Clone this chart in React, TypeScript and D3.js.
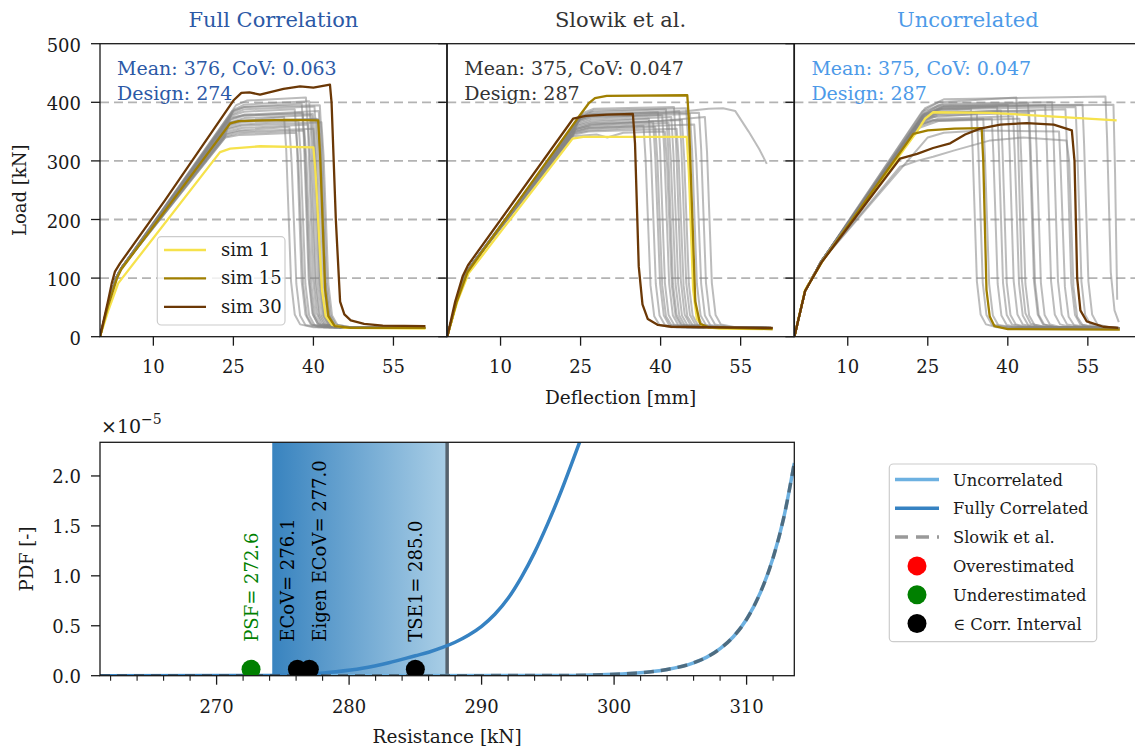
import React from "react";
import * as d3 from "d3";

type Pt = [number, number];

// ---------- Load–deflection panels ----------
const PANEL_TITLES = ["Full Correlation", "Slowik et al.", "Uncorrelated"];
const PANEL_MEANS = [376, 375, 375];
const PANEL_COVS = ["0.063", "0.047", "0.047"];
const PANEL_DESIGNS = [274, 287, 287];
const DEFLECTION_TICKS = [10, 25, 40, 55];
const LOAD_TICKS = [0, 100, 200, 300, 400, 500];
const LOAD_GRID = [100, 200, 300, 400];
const SIM_LABELS = ["sim 1", "sim 15", "sim 30"];

// shared elastic branch of each panel's sample curves
const FULL_START: Pt[] = [[0, 0], [1.5, 55], [3, 100], [4, 117]];
const SLOWIK_START: Pt[] = [[0, 0], [1.7, 58], [3.4, 105], [4.2, 118]];
const UNCORR_START: Pt[] = [[0, 0], [2, 78], [5, 128]];

const FULL_GRAY: Pt[][] = [
  [[25.5, 395], [27.5, 403], [38.6, 408], [39, 350], [39.9, 100], [40.6, 40], [41.5, 22], [44, 16], [61, 15]],
  [[25.2, 388], [27, 396], [39.2, 402], [39.6, 340], [40.5, 95], [41.2, 38], [42.2, 21], [45, 16], [61, 15]],
  [[25, 384], [27, 392], [37.8, 398], [38.2, 340], [39.1, 100], [39.8, 40], [40.8, 22], [43, 16], [61, 15]],
  [[24.8, 380], [27, 388], [40.2, 393], [40.6, 330], [41.5, 90], [42.2, 36], [43.2, 21], [46, 16], [61, 15]],
  [[24.6, 377], [27, 384], [36.5, 388], [36.9, 330], [37.8, 95], [38.5, 38], [39.5, 21], [42, 16], [61, 15]],
  [[24.6, 372], [27, 379], [41, 385], [41.4, 320], [42.3, 90], [43, 36], [44, 20], [46, 16], [61, 15]],
  [[24.4, 370], [27, 377], [38, 382], [38.4, 320], [39.3, 90], [40, 36], [41, 20], [44, 16], [61, 15]],
  [[24.4, 366], [27, 373], [39.6, 378], [40, 320], [40.9, 90], [41.6, 36], [42.6, 20], [45, 16], [61, 15]],
  [[24.2, 362], [26.5, 368], [34.5, 375], [34.9, 320], [35.8, 95], [36.5, 38], [37.5, 21], [40, 16], [61, 15]],
  [[24.2, 360], [26.5, 366], [40.6, 372], [41, 315], [41.9, 90], [42.6, 36], [43.6, 20], [46, 16], [61, 15]],
  [[24, 356], [26.5, 362], [37.2, 368], [37.6, 310], [38.5, 90], [39.2, 36], [40.2, 20], [43, 16], [61, 15]],
  [[24, 354], [26.5, 360], [41.5, 366], [41.9, 310], [42.8, 90], [43.5, 36], [44.5, 20], [47, 16], [61, 15]],
  [[23.8, 350], [26.5, 356], [39, 362], [39.4, 305], [40.3, 90], [41, 36], [42, 20], [45, 16], [61, 15]],
  [[23.8, 347], [26, 352], [35.5, 358], [35.9, 300], [36.8, 90], [37.5, 36], [38.5, 20], [41, 16], [61, 15]],
  [[23.6, 345], [26, 350], [40, 355], [40.4, 300], [41.3, 90], [42, 36], [43, 20], [46, 16], [61, 15]],
  [[23.6, 342], [26, 347], [38.3, 352], [38.7, 300], [39.6, 90], [40.3, 36], [41.3, 20], [44, 16], [61, 15]],
  [[24.8, 385], [27, 392], [41.2, 395], [41.6, 330], [42.5, 92], [43.2, 37], [44.2, 21], [47, 16], [61, 15]],
  [[24.5, 374], [27, 378], [39.9, 380], [40.3, 320], [41.2, 90], [41.9, 36], [42.9, 20], [45, 16], [61, 15]],
  [[23.5, 340], [26, 344], [36.8, 348], [37.2, 295], [38.1, 88], [38.8, 35], [39.8, 20], [42, 16], [61, 15]],
  [[24.2, 365], [26.5, 369], [40.9, 371], [41.3, 315], [42.2, 90], [42.9, 36], [43.9, 20], [46, 16], [61, 15]],
];

const SLOWIK_GRAY: Pt[][] = [
  [[25.5, 382], [27.5, 389], [42.5, 392], [42.9, 330], [43.8, 95], [44.5, 38], [45.5, 21], [48, 16], [61, 15]],
  [[25.3, 378], [27.5, 386], [44.8, 390], [45.2, 330], [46.1, 95], [46.8, 38], [47.8, 21], [50, 16], [61, 15]],
  [[25, 375], [27, 383], [41, 388], [41.4, 325], [42.3, 92], [43, 37], [44, 21], [47, 16], [61, 15]],
  [[25, 372], [27, 380], [43.5, 385], [43.9, 322], [44.8, 92], [45.5, 37], [46.5, 21], [49, 16], [61, 15]],
  [[24.8, 370], [27, 378], [39.5, 383], [39.9, 320], [40.8, 92], [41.5, 37], [42.5, 21], [45, 16], [61, 15]],
  [[24.7, 368], [27, 375], [45.5, 380], [45.9, 318], [46.8, 90], [47.5, 36], [48.5, 20], [51, 16], [61, 15]],
  [[24.5, 365], [27, 372], [40.3, 378], [40.7, 315], [41.6, 90], [42.3, 36], [43.3, 20], [46, 16], [61, 15]],
  [[24.5, 362], [27, 369], [42, 375], [42.4, 312], [43.3, 90], [44, 36], [45, 20], [48, 16], [61, 15]],
  [[24.3, 360], [27, 366], [37.8, 372], [38.2, 310], [39.1, 90], [39.8, 36], [40.8, 20], [43, 16], [61, 15]],
  [[24.3, 357], [27, 364], [44, 370], [44.4, 308], [45.3, 90], [46, 36], [47, 20], [50, 16], [61, 15]],
  [[24.2, 355], [27, 361], [38.6, 367], [39, 305], [39.9, 90], [40.6, 36], [41.6, 20], [44, 16], [61, 15]],
  [[24, 352], [26.5, 358], [41.5, 365], [41.9, 305], [42.8, 90], [43.5, 36], [44.5, 20], [47, 16], [61, 15]],
  [[24, 350], [26.5, 356], [46.3, 362], [46.7, 300], [47.6, 90], [48.3, 36], [49.3, 20], [52, 16], [61, 15]],
  [[23.8, 347], [26.5, 352], [39, 358], [39.4, 300], [40.3, 88], [41, 35], [42, 20], [45, 16], [61, 15]],
  [[23.8, 345], [26.5, 350], [43, 355], [43.4, 298], [44.3, 88], [45, 35], [46, 20], [49, 16], [61, 15]],
  [[23.6, 342], [28, 345], [30, 340], [33, 348], [40.8, 350], [41.2, 295], [42.1, 88], [42.8, 35], [43.8, 20], [46, 16], [61, 15]],
  [[25.2, 376], [27.5, 380], [47.2, 382], [47.6, 320], [48.5, 92], [49.2, 37], [50.2, 21], [53, 16], [61, 15]],
  [[24.8, 370], [27, 376], [35, 378], [45, 385], [49, 389], [51.7, 390], [54, 385], [56.5, 350], [58.5, 320], [59.9, 295]],
  [[24.1, 354], [27, 362], [40, 368], [48.3, 375], [48.7, 315], [49.6, 92], [50.3, 37], [51.3, 21], [54, 16], [61, 15]],
  [[23.9, 349], [26.5, 355], [36.8, 360], [37.2, 300], [38.1, 88], [38.8, 35], [39.8, 20], [42, 16], [61, 15]],
];

const UNCORR_GRAY: Pt[][] = [
  [[24, 385], [27, 400], [41.6, 408], [41.9, 340], [42.6, 100], [43.3, 40], [44.3, 22], [47, 16], [61, 15]],
  [[24.5, 390], [28, 405], [58.3, 410], [58.6, 340], [59.3, 110], [60, 45], [60.8, 25]],
  [[24.5, 380], [28, 392], [59.8, 396], [60.1, 280], [60.5, 63]],
  [[23.8, 372], [27, 385], [33.1, 388], [33.4, 320], [34.2, 95], [34.9, 38], [35.9, 21], [38, 16], [61, 15]],
  [[23.5, 365], [26, 375], [34.2, 380], [34.5, 315], [35.3, 92], [36, 37], [37, 21], [40, 16], [61, 15]],
  [[23, 360], [26, 370], [35.4, 372], [35.7, 310], [36.5, 90], [37.2, 36], [38.2, 20], [41, 16], [61, 15]],
  [[24, 375], [27, 388], [38, 392], [38.3, 325], [39.1, 92], [39.8, 37], [40.8, 21], [43, 16], [61, 15]],
  [[23.6, 368], [27, 380], [38.7, 386], [39, 320], [39.8, 92], [40.5, 37], [41.5, 21], [44, 16], [61, 15]],
  [[24, 378], [27, 392], [40, 396], [40.3, 330], [41.1, 95], [41.8, 38], [42.8, 21], [45, 16], [61, 15]],
  [[23, 355], [27, 368], [42.2, 372], [42.5, 310], [43.3, 90], [44, 36], [45, 20], [48, 16], [61, 15]],
  [[24.2, 380], [27, 395], [43.8, 398], [44.1, 330], [44.9, 95], [45.6, 38], [46.6, 21], [49, 16], [61, 15]],
  [[23.8, 370], [27, 383], [45.1, 385], [45.4, 320], [46.2, 92], [46.9, 37], [47.9, 21], [50, 16], [61, 15]],
  [[24, 376], [28, 390], [47, 395], [47.3, 328], [48.1, 95], [48.8, 38], [49.8, 21], [52, 16], [61, 15]],
  [[24.5, 385], [28, 398], [48.3, 400], [48.6, 332], [49.4, 95], [50.1, 38], [51.1, 21], [54, 16], [61, 15]],
  [[25, 340], [28, 348], [35, 352], [49.6, 350], [49.9, 290], [50.7, 85], [51.4, 34], [52.4, 20], [55, 16], [61, 15]],
  [[19.8, 290], [23, 300], [26, 307], [30, 318], [36.7, 335], [42.9, 340], [51, 335], [51.5, 300], [52.3, 85], [53, 34], [54, 20], [57, 16], [61, 15]],
  [[23.5, 368], [27, 382], [50.8, 388], [51.1, 322], [51.9, 92], [52.6, 37], [53.6, 21], [56, 16], [61, 15]],
  [[24, 372], [27, 388], [52.7, 392], [53, 325], [53.8, 94], [54.5, 37], [55.5, 21], [58, 16], [61, 15]],
  [[24.3, 378], [28, 394], [54, 396], [54.3, 328], [55.1, 95], [55.8, 38], [56.8, 21], [59, 16], [61, 15]],
  [[23, 358], [26, 368], [37, 372], [37.3, 310], [38.1, 90], [38.8, 36], [39.8, 20], [42, 16], [61, 15]],
  [[23.5, 362], [27, 372], [41, 376], [41.3, 312], [42.1, 90], [42.8, 36], [43.8, 20], [46, 16], [61, 15]],
  [[24, 366], [27, 378], [44, 382], [44.3, 318], [45.1, 92], [45.8, 37], [46.8, 21], [49, 16], [61, 15]],
];

// highlighted simulations: sim 1, sim 15, sim 30
const FULL_SIM1: Pt[] = [[0, 0], [1.6, 46], [3.4, 91], [22.5, 315], [24.4, 321], [30, 325], [40, 323], [40.4, 280], [41.6, 80], [42.3, 35], [43.5, 20], [46, 15], [61, 14]];
const FULL_SIM15: Pt[] = [[0, 0], [1.5, 52], [3.2, 100], [4, 115], [24.4, 364], [26, 368], [35, 370], [40.9, 369], [41.3, 300], [42.2, 80], [42.8, 35], [44, 18], [47, 15], [61, 15]];
const FULL_SIM30: Pt[] = [[0, 0], [1.56, 63], [2.2, 91], [2.8, 111], [3.75, 125], [12.2, 233], [25, 403], [26.5, 416], [28, 417], [30, 413], [34.4, 423], [37.5, 427], [40, 425], [43.1, 430], [43.4, 400], [44.2, 200], [45, 60], [45.8, 38], [47, 28], [49.5, 22], [53, 19], [61, 18]];

const SLOWIK_SIM1: Pt[] = [[0, 0], [1.9, 60], [4, 108], [23.5, 338], [25.5, 341], [35, 341], [44.9, 341], [45.3, 280], [46.1, 80], [46.8, 30], [48, 17], [51, 14], [61, 13]];
const SLOWIK_SIM15: Pt[] = [[0, 0], [1.8, 60], [3.8, 110], [24.8, 377], [26.5, 398], [27.7, 407], [29.9, 411], [45, 412], [45.3, 370], [46, 190], [46.5, 60], [47.4, 22], [49, 16], [61, 13]];
const SLOWIK_SIM30: Pt[] = [[0, 0], [1.5, 60], [2.9, 103], [3.9, 122], [23.6, 372], [26, 377], [30, 379], [34.8, 380], [35.2, 330], [35.9, 120], [36.6, 55], [37.6, 30], [39.5, 20], [42, 17], [61, 15]];

const UNCORR_SIM1: Pt[] = [[0, 0], [2, 80], [5.4, 131], [22.9, 349], [24.5, 372], [26, 383], [36.7, 382], [48, 376], [60.4, 369]];
const UNCORR_SIM15: Pt[] = [[0, 0], [2, 78], [5.2, 128], [22.3, 346], [25, 352], [30, 355], [35.1, 356], [35.4, 300], [36, 80], [36.6, 35], [37.5, 18], [40, 13], [61, 12]];
const UNCORR_SIM30: Pt[] = [[0, 0], [2, 78], [5, 126], [19.8, 304], [23, 312], [26, 322], [29.2, 330], [32, 345], [34.8, 355], [38.6, 362], [43.6, 364.5], [48.6, 362], [52, 352], [52.5, 300], [53, 100], [53.6, 45], [54.8, 26], [57.9, 17], [60.7, 15]];

// ---------- Resistance PDF panel ----------
const RESISTANCE_TICKS = [270, 280, 290, 300, 310];
const PDF_TICKS = [0, 0.5, 1.0, 1.5, 2.0];
const DESIGN_BAND = [274.2, 287.4];
// PDF values in units of 1e-5
const FULLY_PDF: Pt[] = [[261.2, 0], [272, 0.001], [275, 0.005], [277, 0.018], [279, 0.04], [281, 0.075], [283, 0.13], [285, 0.2], [286, 0.235], [287, 0.28], [288, 0.335], [289, 0.405], [290, 0.495], [291, 0.615], [292, 0.775], [293, 0.985], [294, 1.235], [295, 1.525], [296, 1.845], [297, 2.195], [298, 2.555]];
const UNCORR_PDF: Pt[] = [[261.2, 0], [295, 0.001], [299, 0.01], [301.5, 0.025], [304, 0.062], [306, 0.129], [307, 0.186], [308, 0.27], [309, 0.39], [310, 0.565], [311, 0.82], [312, 1.18], [312.8, 1.58], [313.6, 2.13]];
const SLOWIK_PDF: Pt[] = [[261.2, 0], [295, 0.001], [299, 0.01], [301.5, 0.025], [304, 0.062], [306, 0.129], [307, 0.186], [308, 0.27], [309, 0.39], [310, 0.565], [311, 0.82], [312, 1.18], [312.8, 1.58], [313.6, 2.13]];
const ESTIMATE_NAMES = ["PSF", "ECoV", "Eigen ECoV", "TSE1"];
const ESTIMATE_VALUES = [272.6, 276.1, 277.0, 285.0];
const ESTIMATE_CLASS = ["under", "corr", "corr", "corr"];
const PDF_LEGEND = ["Uncorrelated", "Fully Correlated", "Slowik et al.", "Overestimated", "Underestimated", "\u2208 Corr. Interval"];

// ---------- styling ----------
const FONT = "'DejaVu Serif', serif";
const TITLE_COLORS = ["#2c59a6", "#333333", "#4d9ae8"];
const SIM_COLORS = ["#f6e24c", "#a07f00", "#6b3806"];
const CLASS_COLORS: Record<string, string> = { over: "#ff0000", under: "#008000", corr: "#000000" };
const PANEL_LEFTS = [100, 447.2, 794.4];
const PANEL_W = 346.8;
const TOP_BOTTOM = 336.7;
const TOP_TOP = 43.7;
const PDF_LEFT = 100;
const PDF_RIGHT = 794.3;
const PDF_TOP = 442.3;
const PDF_BOTTOM = 675.7;
const LABEL_DX = [0, -10, 10, 0];

export default function App() {
  const yLoad = d3.scaleLinear().domain([0, 500]).range([TOP_BOTTOM, TOP_TOP]);
  const panels = [
    { gray: FULL_GRAY, start: FULL_START, sims: [FULL_SIM1, FULL_SIM15, FULL_SIM30] },
    { gray: SLOWIK_GRAY, start: SLOWIK_START, sims: [SLOWIK_SIM1, SLOWIK_SIM15, SLOWIK_SIM30] },
    { gray: UNCORR_GRAY, start: UNCORR_START, sims: [UNCORR_SIM1, UNCORR_SIM15, UNCORR_SIM30] },
  ];

  const xRes = d3.scaleLinear().domain([261.2, 313.6]).range([PDF_LEFT, PDF_RIGHT]);
  const yPdf = d3.scaleLinear().domain([0, 2.337]).range([PDF_BOTTOM, PDF_TOP]);
  const pdfLine = d3.line<Pt>().x((d) => xRes(d[0])).y((d) => yPdf(d[1])).curve(d3.curveMonotoneX);
  const minorTicks = d3.range(262, 313.6, 2).filter((v) => v % 10 !== 0);
  const markerY = yPdf(0.065);
  const labelY = yPdf(0.34);

  const legendRowsY = PDF_LEGEND.map((_, i) => 479.5 + i * 28.8);

  return (
    <svg width={1135} height={754} style={{ position: "absolute", left: 0, top: 0, background: "#fff" }} fontFamily={FONT}>
      <defs>
        {panels.map((_, i) => (
          <clipPath id={`clipTop${i}`} key={i}>
            <rect x={PANEL_LEFTS[i]} y={TOP_TOP} width={PANEL_W} height={TOP_BOTTOM - TOP_TOP} />
          </clipPath>
        ))}
        <clipPath id="clipPdf">
          <rect x={PDF_LEFT} y={PDF_TOP} width={PDF_RIGHT - PDF_LEFT} height={PDF_BOTTOM - PDF_TOP} />
        </clipPath>
        <linearGradient id="bandGrad" x1="0" x2="1" y1="0" y2="0">
          <stop offset="0%" stopColor="#3883bf" />
          <stop offset="100%" stopColor="#a9cee6" />
        </linearGradient>
      </defs>

      {/* ===== top row: load-deflection curves ===== */}
      {panels.map((p, i) => {
        const left = PANEL_LEFTS[i];
        const x = d3.scaleLinear().domain([0, 65]).range([left, left + PANEL_W]);
        const line = d3.line<Pt>().x((d) => x(d[0])).y((d) => yLoad(d[1]));
        const center = left + PANEL_W / 2;
        return (
          <g key={i}>
            <g clipPath={`url(#clipTop${i})`}>
              {LOAD_GRID.map((v) => (
                <line key={v} x1={left} x2={left + PANEL_W} y1={yLoad(v)} y2={yLoad(v)} stroke="#b3b3b3" strokeWidth={1.8} strokeDasharray="9,5" />
              ))}
              {p.gray.map((c, k) => (
                <path key={k} d={line([...p.start, ...c]) || ""} fill="none" stroke="#858585" strokeOpacity={0.55} strokeWidth={2} strokeLinejoin="round" />
              ))}
              {p.sims.map((c, k) => (
                <path key={k} d={line(c) || ""} fill="none" stroke={SIM_COLORS[k]} strokeWidth={2.3} strokeLinejoin="round" />
              ))}
            </g>
            {/* frame */}
            <rect x={left} y={TOP_TOP} width={PANEL_W} height={TOP_BOTTOM - TOP_TOP} fill="none" stroke="#1a1a1a" strokeWidth={1.3} />
            {/* y ticks (outward) */}
            {LOAD_TICKS.map((v) => (
              <line key={v} x1={left - 9} x2={left} y1={yLoad(v)} y2={yLoad(v)} stroke="#1a1a1a" strokeWidth={1.3} />
            ))}
            {i === 0 &&
              LOAD_TICKS.map((v) => (
                <text key={v} x={81} y={yLoad(v) + 8} textAnchor="end" fontSize={18} fill="#1a1a1a">{v}</text>
              ))}
            {/* x ticks */}
            {DEFLECTION_TICKS.map((v) => (
              <g key={v}>
                <line x1={x(v)} x2={x(v)} y1={TOP_BOTTOM} y2={TOP_BOTTOM + 9} stroke="#1a1a1a" strokeWidth={1.3} />
                <text x={x(v)} y={373} textAnchor="middle" fontSize={18} fill="#1a1a1a">{v}</text>
              </g>
            ))}
            {/* title and statistics */}
            <text x={center} y={27} textAnchor="middle" fontSize={21} fill={TITLE_COLORS[i]}>{PANEL_TITLES[i]}</text>
            <text x={left + 17} y={75} fontSize={19} fill={TITLE_COLORS[i]}>{`Mean: ${PANEL_MEANS[i]}, CoV: ${PANEL_COVS[i]}`}</text>
            <text x={left + 17} y={99.5} fontSize={19} fill={TITLE_COLORS[i]}>{`Design: ${PANEL_DESIGNS[i]}`}</text>
          </g>
        );
      })}

      {/* legend of the first panel */}
      <g>
        <rect x={157.3} y={236.7} width={127.7} height={88.3} rx={4} fill="#ffffff" fillOpacity={0.8} stroke="#cccccc" strokeWidth={1.2} />
        {SIM_LABELS.map((s, k) => {
          const yy = 250 + k * 28.4;
          return (
            <g key={s}>
              <line x1={164} x2={206} y1={yy} y2={yy} stroke={SIM_COLORS[k]} strokeWidth={2.3} />
              <text x={221} y={yy + 6} fontSize={18} fill="#1a1a1a">{s}</text>
            </g>
          );
        })}
      </g>

      {/* axis labels of the top row */}
      <text transform={`translate(26,${(TOP_TOP + TOP_BOTTOM) / 2}) rotate(-90)`} textAnchor="middle" fontSize={18} fill="#1a1a1a">Load [kN]</text>
      <text x={PANEL_LEFTS[1] + PANEL_W / 2} y={404} textAnchor="middle" fontSize={18.5} fill="#1a1a1a">Deflection [mm]</text>

      {/* ===== bottom: resistance PDF ===== */}
      <g clipPath="url(#clipPdf)">
        <rect x={xRes(DESIGN_BAND[0])} y={PDF_TOP} width={xRes(DESIGN_BAND[1]) - xRes(DESIGN_BAND[0])} height={PDF_BOTTOM - PDF_TOP} fill="url(#bandGrad)" />
        <line x1={xRes(DESIGN_BAND[1])} x2={xRes(DESIGN_BAND[1])} y1={PDF_TOP} y2={PDF_BOTTOM} stroke="#56636e" strokeWidth={3.5} />
        <path d={pdfLine(UNCORR_PDF) || ""} fill="none" stroke="#6db1e1" strokeWidth={3.5} />
        <path d={pdfLine(FULLY_PDF) || ""} fill="none" stroke="#3682c2" strokeWidth={3.5} />
        <path d={pdfLine(SLOWIK_PDF) || ""} fill="none" stroke="#333333" strokeOpacity={0.55} strokeWidth={3.5} strokeDasharray="10,7" />
        {ESTIMATE_VALUES.map((v, k) => (
          <circle key={k} cx={xRes(v)} cy={markerY} r={9.5} fill={CLASS_COLORS[ESTIMATE_CLASS[k]]} />
        ))}
      </g>
      {ESTIMATE_VALUES.map((v, k) => (
        <text
          key={k}
          transform={`translate(${xRes(v) + LABEL_DX[k]},${labelY}) rotate(-90)`}
          dy="0.36em"
          fontSize={18}
          fill={CLASS_COLORS[ESTIMATE_CLASS[k]]}
        >{`${ESTIMATE_NAMES[k]}= ${v.toFixed(1)}`}</text>
      ))}
      <rect x={PDF_LEFT} y={PDF_TOP} width={PDF_RIGHT - PDF_LEFT} height={PDF_BOTTOM - PDF_TOP} fill="none" stroke="#1a1a1a" strokeWidth={1.3} />
      {PDF_TICKS.map((v) => (
        <g key={v}>
          <line x1={PDF_LEFT - 9} x2={PDF_LEFT} y1={yPdf(v)} y2={yPdf(v)} stroke="#1a1a1a" strokeWidth={1.3} />
          <text x={81} y={yPdf(v) + 7} textAnchor="end" fontSize={18} fill="#1a1a1a">{v.toFixed(1)}</text>
        </g>
      ))}
      {RESISTANCE_TICKS.map((v) => (
        <g key={v}>
          <line x1={xRes(v)} x2={xRes(v)} y1={PDF_BOTTOM} y2={PDF_BOTTOM + 9} stroke="#1a1a1a" strokeWidth={1.3} />
          <text x={xRes(v)} y={713} textAnchor="middle" fontSize={18} fill="#1a1a1a">{v}</text>
        </g>
      ))}
      {minorTicks.map((v) => (
        <line key={v} x1={xRes(v)} x2={xRes(v)} y1={PDF_BOTTOM} y2={PDF_BOTTOM + 5} stroke="#1a1a1a" strokeWidth={1.1} />
      ))}
      <text x={101} y={433} fontSize={19} fill="#1a1a1a">
        {"\u00d710"}
        <tspan dy={-9} fontSize={14}>{"\u22125"}</tspan>
      </text>
      <text transform={`translate(33,${(PDF_TOP + PDF_BOTTOM) / 2}) rotate(-90)`} textAnchor="middle" fontSize={18} fill="#1a1a1a">PDF [-]</text>
      <text x={(PDF_LEFT + PDF_RIGHT) / 2} y={743} textAnchor="middle" fontSize={18.5} fill="#1a1a1a">Resistance [kN]</text>

      {/* legend of the PDF panel */}
      <g>
        <rect x={889.3} y={464} width={207.4} height={177.7} rx={4} fill="#ffffff" stroke="#cccccc" strokeWidth={1.2} />
        <line x1={895} x2={939} y1={legendRowsY[0]} y2={legendRowsY[0]} stroke="#6db1e1" strokeWidth={3.5} />
        <line x1={895} x2={939} y1={legendRowsY[1]} y2={legendRowsY[1]} stroke="#3682c2" strokeWidth={3.5} />
        <line x1={895} x2={939} y1={legendRowsY[2]} y2={legendRowsY[2]} stroke="#333333" strokeOpacity={0.5} strokeWidth={3.5} strokeDasharray="13,8" />
        {["over", "under", "corr"].map((c, k) => (
          <circle key={c} cx={917} cy={legendRowsY[3 + k]} r={9.5} fill={CLASS_COLORS[c]} />
        ))}
        {PDF_LEGEND.map((t, k) => (
          <text key={t} x={953} y={legendRowsY[k] + 6} fontSize={16.3} fill="#1a1a1a">{t}</text>
        ))}
      </g>
    </svg>
  );
}
